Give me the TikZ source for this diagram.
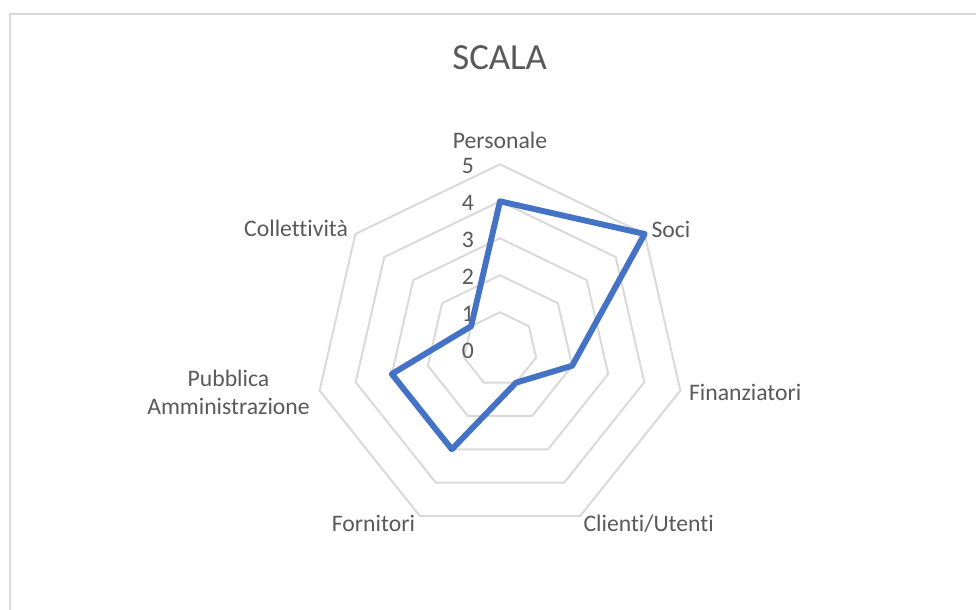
\documentclass[tikz,border=0pt]{standalone}
\usepackage{fontspec}
\setmainfont{Carlito}[Ligatures={NoCommon}]
\definecolor{testo}{HTML}{595959}
\definecolor{griglia}{HTML}{D9D9D9}
\definecolor{blu}{HTML}{4472C4}
\begin{document}
\begin{tikzpicture}[x=0.38pt,y=0.38pt,
  anello/.style={draw=griglia,line width=0.75pt,line join=round},
  serie/.style={draw=blu,line width=2.25pt,line join=round},
  etichetta/.style={text=testo,inner sep=0pt,font=\fontsize{9pt}{10.8pt}\selectfont},
  valore/.style={etichetta,anchor=base east}]
\clip (0,0) rectangle (976,609);
\draw[griglia,line width=0.75pt] (10,-20) rectangle (1000,595);
\path (499.7,539.7) node[anchor=base,inner sep=0pt,text=testo,font=\fontsize{14pt}{16.8pt}\selectfont] (titolo) {SCALA};

\coordinate (O) at (500,259.7);
\draw[anello,shift={(O)}] (90:37) -- (38.571:37) -- (-12.857:37) -- (-64.286:37) -- (-115.714:37) -- (-167.143:37) -- (141.429:37) -- cycle;
\draw[anello,shift={(O)}] (90:74) -- (38.571:74) -- (-12.857:74) -- (-64.286:74) -- (-115.714:74) -- (-167.143:74) -- (141.429:74) -- cycle;
\draw[anello,shift={(O)}] (90:111) -- (38.571:111) -- (-12.857:111) -- (-64.286:111) -- (-115.714:111) -- (-167.143:111) -- (141.429:111) -- cycle;
\draw[anello,shift={(O)}] (90:148) -- (38.571:148) -- (-12.857:148) -- (-64.286:148) -- (-115.714:148) -- (-167.143:148) -- (141.429:148) -- cycle;
\draw[anello,shift={(O)}] (90:185) -- (38.571:185) -- (-12.857:185) -- (-64.286:185) -- (-115.714:185) -- (-167.143:185) -- (141.429:185) -- cycle;

\path (474.5,250.7) node[valore] (v0) {0};
\path (474.5,287.7) node[valore] (v1) {1};
\path (474.5,324.7) node[valore] (v2) {2};
\path (474.5,361.7) node[valore] (v3) {3};
\path (474.5,398.7) node[valore] (v4) {4};
\path (474.5,435.7) node[valore] (v5) {5};

\path (500,460.7) node[etichetta,anchor=base] (personale) {Personale};
\path (651,371.7) node[etichetta,anchor=base west] (soci) {Soci};
\path (688.5,209) node[etichetta,anchor=base west] (finanziatori) {Finanziatori};
\path (583,77.3) node[etichetta,anchor=base west] (clienti) {Clienti/Utenti};
\path (415.5,77.3) node[etichetta,anchor=base east] (fornitori) {Fornitori};
\path (228.5,216.5) node[etichetta,align=center] (pa) {Pubblica\\Amministrazione};
\path (348.5,372.3) node[etichetta,anchor=base east] (collettivita) {Collettività};

\path (O) ++(90:148) coordinate (pPers);
\path (O) ++(38.571:185) coordinate (pSoci);
\path (O) ++(-12.857:74) coordinate (pFin);
\path (O) ++(-64.286:37) coordinate (pCli);
\path (O) ++(-115.714:111) coordinate (pForn);
\path (O) ++(-167.143:111) coordinate (pPA);
\path (O) ++(141.429:37) coordinate (pColl);
\draw[serie] (pPers) -- (pSoci) -- (pFin) -- (pCli) -- (pForn) -- (pPA) -- (pColl) -- cycle;
\end{tikzpicture}
\end{document}
